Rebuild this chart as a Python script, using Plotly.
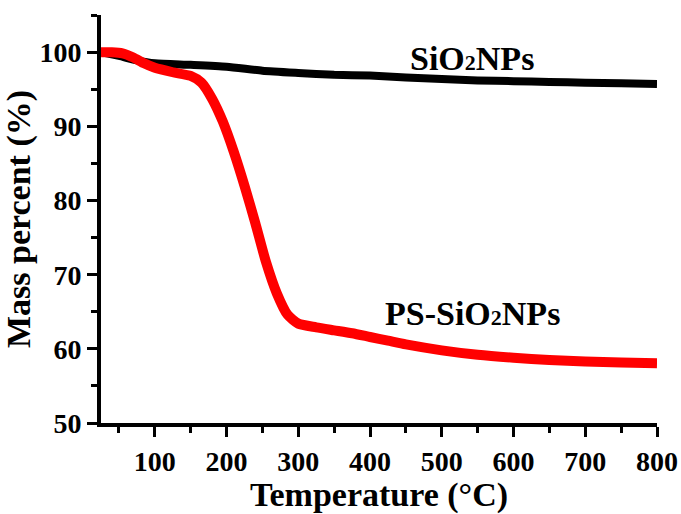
import plotly.graph_objects as go

# Thermogravimetric curves: temperature (°C) vs. remaining mass (%)
temp_sio2 = [25, 50, 75, 100, 150, 200, 250, 300, 350, 400, 450, 500, 550, 600, 650, 700, 750, 800]
mass_sio2 = [100.0, 99.5, 98.9, 98.5, 98.3, 98.05, 97.5, 97.2, 96.95, 96.85, 96.6, 96.4, 96.2, 96.1, 96.0, 95.9, 95.8, 95.7]

temp_ps = [25, 40, 55, 70, 85, 100, 125, 150, 165, 180, 195, 210, 225, 240, 255, 270, 285, 300,
           325, 350, 375, 400, 425, 450, 500, 550, 600, 650, 700, 750, 800]
mass_ps = [100.0, 100.0, 99.85, 99.3, 98.5, 97.9, 97.3, 96.8, 95.9, 93.7, 90.6, 86.6, 82.0, 77.0, 71.7, 67.5, 64.6, 63.4,
           62.9, 62.5, 62.1, 61.6, 61.1, 60.6, 59.8, 59.2, 58.8, 58.5, 58.3, 58.15, 58.05]

x_ticks = [100, 200, 300, 400, 500, 600, 700, 800]
y_ticks = [50, 60, 70, 80, 90, 100]

FONT = "Times New Roman, Liberation Serif, serif"

fig = go.Figure()
fig.add_trace(go.Scatter(x=temp_sio2, y=mass_sio2, mode="lines",
                         line=dict(color="black", width=8, shape="spline", smoothing=0.6),
                         showlegend=False))
fig.add_trace(go.Scatter(x=temp_ps, y=mass_ps, mode="lines",
                         line=dict(color="#ff0000", width=10, shape="spline", smoothing=0.6),
                         showlegend=False))

small2 = '<span style="font-size:22px">2</span>'
fig.add_annotation(x=453, y=99.1, xref="x", yref="y", xanchor="left", yanchor="middle",
                   text=f"SiO{small2}NPs", showarrow=False,
                   font=dict(family=FONT, size=34, color="black", weight="bold"))
fig.add_annotation(x=418.5, y=64.8, xref="x", yref="y", xanchor="left", yanchor="middle",
                   text=f"PS-SiO{small2}NPs", showarrow=False,
                   font=dict(family=FONT, size=34, color="black", weight="bold"))

axis_common = dict(
    showline=True, linecolor="black", linewidth=4,
    ticks="outside", ticklen=10, tickwidth=3, tickcolor="black",
    showgrid=False, zeroline=False, mirror=False, automargin=False,
    tickfont=dict(family=FONT, size=28, color="black", weight="bold"),
)

fig.update_xaxes(
    range=[25, 800], tickvals=x_ticks, ticktext=[str(v) for v in x_ticks],
    minor=dict(tickvals=[50, 150, 250, 350, 450, 550, 650, 750], ticks="outside",
               ticklen=6, tickwidth=3, tickcolor="black"),
    title=dict(text="Temperature (°C)", standoff=12,
               font=dict(family=FONT, size=34, color="black", weight="bold")),
    **axis_common,
)
fig.update_yaxes(
    range=[50, 105.02], tickvals=y_ticks, ticktext=[str(v) for v in y_ticks],
    minor=dict(tickvals=[55, 65, 75, 85, 95, 105], ticks="outside",
               ticklen=6, tickwidth=3, tickcolor="black"),
    title=dict(text="Mass percent (%)", standoff=8,
               font=dict(family=FONT, size=34, color="black", weight="bold")),
    **axis_common,
)

fig.update_layout(
    width=681, height=514,
    margin=dict(l=101, r=24, t=15, b=91),
    paper_bgcolor="white", plot_bgcolor="white",
)

fig.write_html("out.html")
